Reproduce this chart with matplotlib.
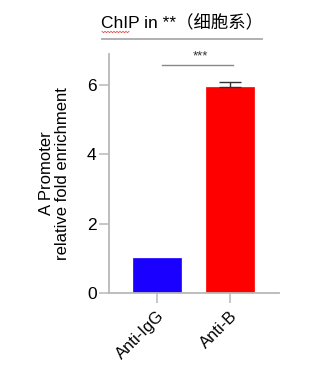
import numpy as np
import matplotlib
matplotlib.use("Agg")
import matplotlib.pyplot as plt
from matplotlib.lines import Line2D

plt.rcParams['font.family'] = ['Liberation Sans', 'Noto Sans CJK SC', 'DejaVu Sans']

categories = ["Anti-IgG", "Anti-B"]
values = [1.0, 5.95]
errors = [0.0, 0.14]
colors = ["#1a00ff", "#ff0000"]
title = "ChIP in **（细胞系）"
ylabel = "A Promoter\nrelative fold enrichment"
yticks = [0, 2, 4, 6]
sig_label = "***"

W, H = 320, 381
fig = plt.figure(figsize=(W / 100, H / 100), dpi=100)
ax = fig.add_axes([109 / W, 1 - 293 / H, 170 / W, 239 / H])

x = np.arange(len(categories))
ax.bar(x, values, width=0.66, color=colors, edgecolor=colors, linewidth=0.5, zorder=2)
ax.errorbar(x[1:], values[1:], yerr=[[0], errors[1:]], fmt='none', ecolor='#333333',
            elinewidth=1.0, capsize=8, capthick=1.0, zorder=3)

ax.set_xlim(-0.658, 1.671)
ax.set_ylim(0, 6.9)
ax.set_yticks(yticks)
ax.set_xticks(x)
ax.set_xticklabels(categories, rotation=45, ha='right', rotation_mode='anchor', fontsize=12)
ax.tick_params(axis='y', labelsize=12.5, length=7, width=1.1, color='#b8b8b8', pad=2)
ax.tick_params(axis='x', length=7, width=1.1, color='#b8b8b8', pad=4)
for s in ['top', 'right']:
    ax.spines[s].set_visible(False)
for s in ['left', 'bottom']:
    ax.spines[s].set_color('#b8b8b8')
    ax.spines[s].set_linewidth(1.3)
ax.set_ylabel(ylabel, fontsize=12, labelpad=12, linespacing=1.1)

# significance
ax.plot([0.064, 1.037], [6.57, 6.57], color='#888888', lw=1.0, clip_on=False)
ax.text(0.59, 6.66, sig_label, ha='center', va='bottom', fontsize=9.5, color='#333333')

# title and underline
fig.text(182 / W, 1 - 23 / H, title, ha='center', va='center', fontsize=12.5)
fig.add_artist(Line2D([102 / W, 262 / W], [1 - 38.5 / H, 1 - 38.5 / H],
                      color='#aaaaaa', lw=1.3, transform=fig.transFigure))
# spell-check squiggle under "ChIP"
zx = np.arange(102, 130, 1.5)
zy = 32 + np.where(np.arange(len(zx)) % 2 == 0, -0.7, 0.7)
fig.add_artist(Line2D(zx / W, 1 - zy / H, color='#e05050', lw=0.6,
                      transform=fig.transFigure))

fig.savefig("out.png", dpi=100)
